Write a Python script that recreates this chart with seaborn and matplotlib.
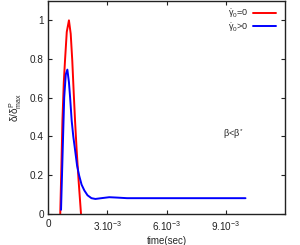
import numpy as np
import pandas as pd
import matplotlib
matplotlib.use("Agg")
import matplotlib.pyplot as plt
import seaborn as sns

# data (time in seconds, normalized delta)
t_red = [0.62e-3, 0.68e-3, 0.73e-3, 0.80e-3, 0.86e-3, 0.95e-3, 1.06e-3, 1.15e-3,
         1.23e-3, 1.30e-3, 1.37e-3, 1.45e-3, 1.55e-3, 1.67e-3]
v_red = [0.0, 0.25, 0.48, 0.68, 0.79, 0.94, 1.0, 0.93, 0.79, 0.63, 0.48, 0.33, 0.17, 0.0]

t_blue = [0.66e-3, 0.75e-3, 0.82e-3, 0.90e-3, 0.98e-3, 1.06e-3, 1.12e-3, 1.20e-3,
          1.28e-3, 1.37e-3, 1.47e-3, 1.57e-3, 1.70e-3, 1.84e-3, 2.0e-3, 2.2e-3,
          2.4e-3, 2.7e-3, 3.1e-3, 3.5e-3, 4.0e-3, 5.0e-3, 6.0e-3, 7.0e-3, 8.0e-3,
          9.0e-3, 10.0e-3]
v_blue = [0.02, 0.35, 0.60, 0.72, 0.745, 0.68, 0.60, 0.48, 0.40, 0.33, 0.25, 0.20,
          0.15, 0.12, 0.095, 0.08, 0.076, 0.08, 0.085, 0.083, 0.08, 0.08, 0.08,
          0.08, 0.08, 0.08, 0.08]

series_labels = [r"$\dot{\gamma}_0$=0", r"$\dot{\gamma}_0$>0"]
x_ticks = [0, 3e-3, 6e-3, 9e-3]
x_ticklabels = ["0", r"3.10$^{-3}$", r"6.10$^{-3}$", r"9.10$^{-3}$"]
y_ticks = [0, 0.2, 0.4, 0.6, 0.8, 1.0]
y_ticklabels = ["0", "0.2", "0.4", "0.6", "0.8", "1"]

df = pd.DataFrame({
    "t": t_red + t_blue,
    "v": v_red + v_blue,
    "s": [series_labels[0]] * len(t_red) + [series_labels[1]] * len(t_blue),
})

sns.set_style("ticks")
plt.rcParams["font.family"] = ["Liberation Sans", "DejaVu Sans"]
plt.rcParams["mathtext.fontset"] = "custom"
plt.rcParams["mathtext.rm"] = "Liberation Sans"
plt.rcParams["mathtext.it"] = "Liberation Sans"
plt.rcParams["mathtext.bf"] = "Liberation Sans"

fig = plt.figure(figsize=(3.0, 2.45), dpi=100)
ax = fig.add_axes([0.16, 0.128, 0.79, 0.868])

sns.lineplot(data=df, x="t", y="v", hue="s", palette=["#ff0000", "#0000ff"],
             linewidth=1.4, ax=ax, sort=False, estimator=None)

ax.set_xlim(0, 0.012)
ax.set_ylim(0, 1.1)
ax.set_xticks(x_ticks)
ax.set_xticklabels(x_ticklabels)
ax.set_yticks(y_ticks)
ax.set_yticklabels(y_ticklabels)
ax.tick_params(direction="in", length=3, width=0.8, labelsize=7.2, top=True, right=True,
               colors="#222222", pad=3)
ax.tick_params(axis="x", pad=4)
for sp in ax.spines.values():
    sp.set_visible(True)
    sp.set_linewidth(1.0)
    sp.set_color("#222222")

ax.set_xlabel("time(sec)", fontsize=7, labelpad=2)
ax.set_ylabel(r"$\delta/\delta^{P}_{max}$", fontsize=7.2, labelpad=4)

leg = ax.legend(loc="upper right", fontsize=6.5, frameon=False, markerfirst=False,
                handlelength=2.6, handletextpad=0.5, labelspacing=0.05,
                borderaxespad=0.3, bbox_to_anchor=(0.99, 1.0))
ax.text(0.0094, 0.41, r"$\beta$<$\beta^{*}$", fontsize=6.5, ha="center", va="center")

fig.savefig("out.png", dpi=100)
